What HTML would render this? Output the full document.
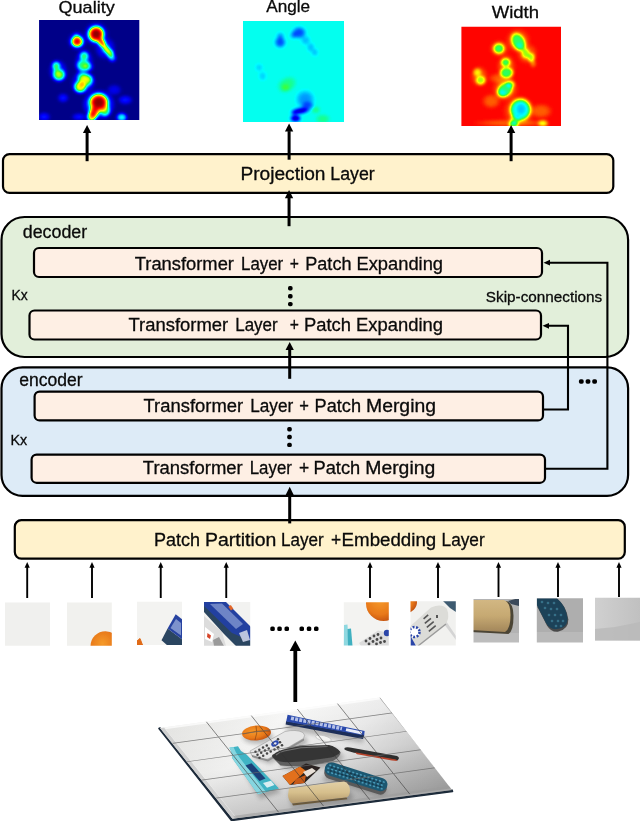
<!DOCTYPE html>
<html>
<head>
<meta charset="utf-8">
<title>Diagram</title>
<style>
html,body{margin:0;padding:0;background:#fff;}
body{width:640px;height:821px;overflow:hidden;font-family:"Liberation Sans",sans-serif;}
svg{display:block;}
text{font-family:"Liberation Sans",sans-serif;fill:#0a0a0a;stroke:#0a0a0a;stroke-width:0.3px;}
</style>
</head>
<body>
<svg width="640" height="821" viewBox="0 0 640 821">
<defs>
  <filter id="jet" x="-10%" y="-10%" width="120%" height="120%" color-interpolation-filters="sRGB">
    <feGaussianBlur stdDeviation="1.6"/>
    <feComponentTransfer>
      <feFuncR type="table" tableValues="0 0 0 0 0 0 0 0.08 0.25 0.7 1 1 1 1 1 0.75 0.5"/>
      <feFuncG type="table" tableValues="0 0 0 0.25 0.5 0.75 1 1 1 1 1 0.75 0.5 0.25 0 0 0"/>
      <feFuncB type="table" tableValues="0.52 0.78 1 1 1 1 1 0.6 0.2 0.03 0 0 0 0 0 0 0"/>
    </feComponentTransfer>
  </filter>
  <radialGradient id="w10"><stop offset="0" stop-color="#fff" stop-opacity="0.10"/><stop offset="0.45" stop-color="#fff" stop-opacity="0.10"/><stop offset="0.75" stop-color="#fff" stop-opacity="0.05"/><stop offset="1" stop-color="#fff" stop-opacity="0"/></radialGradient>
  <radialGradient id="w15"><stop offset="0" stop-color="#fff" stop-opacity="0.15"/><stop offset="0.45" stop-color="#fff" stop-opacity="0.14"/><stop offset="0.75" stop-color="#fff" stop-opacity="0.07"/><stop offset="1" stop-color="#fff" stop-opacity="0"/></radialGradient>
  <radialGradient id="w20"><stop offset="0" stop-color="#fff" stop-opacity="0.20"/><stop offset="0.45" stop-color="#fff" stop-opacity="0.19"/><stop offset="0.75" stop-color="#fff" stop-opacity="0.10"/><stop offset="1" stop-color="#fff" stop-opacity="0"/></radialGradient>
  <radialGradient id="w30"><stop offset="0" stop-color="#fff" stop-opacity="0.30"/><stop offset="0.45" stop-color="#fff" stop-opacity="0.28"/><stop offset="0.75" stop-color="#fff" stop-opacity="0.15"/><stop offset="1" stop-color="#fff" stop-opacity="0"/></radialGradient>
  <radialGradient id="w40"><stop offset="0" stop-color="#fff" stop-opacity="0.40"/><stop offset="0.45" stop-color="#fff" stop-opacity="0.38"/><stop offset="0.75" stop-color="#fff" stop-opacity="0.20"/><stop offset="1" stop-color="#fff" stop-opacity="0"/></radialGradient>
  <radialGradient id="w50"><stop offset="0" stop-color="#fff" stop-opacity="0.50"/><stop offset="0.45" stop-color="#fff" stop-opacity="0.47"/><stop offset="0.75" stop-color="#fff" stop-opacity="0.25"/><stop offset="1" stop-color="#fff" stop-opacity="0"/></radialGradient>
  <radialGradient id="w60"><stop offset="0" stop-color="#fff" stop-opacity="0.60"/><stop offset="0.45" stop-color="#fff" stop-opacity="0.57"/><stop offset="0.75" stop-color="#fff" stop-opacity="0.30"/><stop offset="1" stop-color="#fff" stop-opacity="0"/></radialGradient>
  <radialGradient id="w70"><stop offset="0" stop-color="#fff" stop-opacity="0.70"/><stop offset="0.45" stop-color="#fff" stop-opacity="0.66"/><stop offset="0.75" stop-color="#fff" stop-opacity="0.35"/><stop offset="1" stop-color="#fff" stop-opacity="0"/></radialGradient>
  <radialGradient id="w80"><stop offset="0" stop-color="#fff" stop-opacity="0.80"/><stop offset="0.45" stop-color="#fff" stop-opacity="0.76"/><stop offset="0.75" stop-color="#fff" stop-opacity="0.40"/><stop offset="1" stop-color="#fff" stop-opacity="0"/></radialGradient>
  <radialGradient id="w90"><stop offset="0" stop-color="#fff" stop-opacity="0.90"/><stop offset="0.45" stop-color="#fff" stop-opacity="0.85"/><stop offset="0.75" stop-color="#fff" stop-opacity="0.45"/><stop offset="1" stop-color="#fff" stop-opacity="0"/></radialGradient>
  <radialGradient id="w100"><stop offset="0" stop-color="#fff" stop-opacity="1.00"/><stop offset="0.45" stop-color="#fff" stop-opacity="0.95"/><stop offset="0.75" stop-color="#fff" stop-opacity="0.50"/><stop offset="1" stop-color="#fff" stop-opacity="0"/></radialGradient>
  <radialGradient id="k10"><stop offset="0" stop-color="#000" stop-opacity="0.10"/><stop offset="0.45" stop-color="#000" stop-opacity="0.10"/><stop offset="0.75" stop-color="#000" stop-opacity="0.05"/><stop offset="1" stop-color="#000" stop-opacity="0"/></radialGradient>
  <radialGradient id="k15"><stop offset="0" stop-color="#000" stop-opacity="0.15"/><stop offset="0.45" stop-color="#000" stop-opacity="0.14"/><stop offset="0.75" stop-color="#000" stop-opacity="0.07"/><stop offset="1" stop-color="#000" stop-opacity="0"/></radialGradient>
  <radialGradient id="k20"><stop offset="0" stop-color="#000" stop-opacity="0.20"/><stop offset="0.45" stop-color="#000" stop-opacity="0.19"/><stop offset="0.75" stop-color="#000" stop-opacity="0.10"/><stop offset="1" stop-color="#000" stop-opacity="0"/></radialGradient>
  <radialGradient id="k30"><stop offset="0" stop-color="#000" stop-opacity="0.30"/><stop offset="0.45" stop-color="#000" stop-opacity="0.28"/><stop offset="0.75" stop-color="#000" stop-opacity="0.15"/><stop offset="1" stop-color="#000" stop-opacity="0"/></radialGradient>
  <radialGradient id="k40"><stop offset="0" stop-color="#000" stop-opacity="0.40"/><stop offset="0.45" stop-color="#000" stop-opacity="0.38"/><stop offset="0.75" stop-color="#000" stop-opacity="0.20"/><stop offset="1" stop-color="#000" stop-opacity="0"/></radialGradient>
  <radialGradient id="k50"><stop offset="0" stop-color="#000" stop-opacity="0.50"/><stop offset="0.45" stop-color="#000" stop-opacity="0.47"/><stop offset="0.75" stop-color="#000" stop-opacity="0.25"/><stop offset="1" stop-color="#000" stop-opacity="0"/></radialGradient>
  <radialGradient id="k60"><stop offset="0" stop-color="#000" stop-opacity="0.60"/><stop offset="0.45" stop-color="#000" stop-opacity="0.57"/><stop offset="0.75" stop-color="#000" stop-opacity="0.30"/><stop offset="1" stop-color="#000" stop-opacity="0"/></radialGradient>
  <radialGradient id="k70"><stop offset="0" stop-color="#000" stop-opacity="0.70"/><stop offset="0.45" stop-color="#000" stop-opacity="0.66"/><stop offset="0.75" stop-color="#000" stop-opacity="0.35"/><stop offset="1" stop-color="#000" stop-opacity="0"/></radialGradient>
  <radialGradient id="k80"><stop offset="0" stop-color="#000" stop-opacity="0.80"/><stop offset="0.45" stop-color="#000" stop-opacity="0.76"/><stop offset="0.75" stop-color="#000" stop-opacity="0.40"/><stop offset="1" stop-color="#000" stop-opacity="0"/></radialGradient>
  <radialGradient id="k90"><stop offset="0" stop-color="#000" stop-opacity="0.90"/><stop offset="0.45" stop-color="#000" stop-opacity="0.85"/><stop offset="0.75" stop-color="#000" stop-opacity="0.45"/><stop offset="1" stop-color="#000" stop-opacity="0"/></radialGradient>
  <radialGradient id="k100"><stop offset="0" stop-color="#000" stop-opacity="1.00"/><stop offset="0.45" stop-color="#000" stop-opacity="0.95"/><stop offset="0.75" stop-color="#000" stop-opacity="0.50"/><stop offset="1" stop-color="#000" stop-opacity="0"/></radialGradient>
  <radialGradient id="p10"><stop offset="0" stop-color="#000" stop-opacity="0.10"/><stop offset="0.68" stop-color="#000" stop-opacity="0.10"/><stop offset="0.86" stop-color="#000" stop-opacity="0.05"/><stop offset="1" stop-color="#000" stop-opacity="0"/></radialGradient>
  <radialGradient id="p15"><stop offset="0" stop-color="#000" stop-opacity="0.15"/><stop offset="0.68" stop-color="#000" stop-opacity="0.15"/><stop offset="0.86" stop-color="#000" stop-opacity="0.07"/><stop offset="1" stop-color="#000" stop-opacity="0"/></radialGradient>
  <radialGradient id="p20"><stop offset="0" stop-color="#000" stop-opacity="0.20"/><stop offset="0.68" stop-color="#000" stop-opacity="0.20"/><stop offset="0.86" stop-color="#000" stop-opacity="0.09"/><stop offset="1" stop-color="#000" stop-opacity="0"/></radialGradient>
  <radialGradient id="p30"><stop offset="0" stop-color="#000" stop-opacity="0.30"/><stop offset="0.68" stop-color="#000" stop-opacity="0.30"/><stop offset="0.86" stop-color="#000" stop-opacity="0.14"/><stop offset="1" stop-color="#000" stop-opacity="0"/></radialGradient>
  <radialGradient id="p40"><stop offset="0" stop-color="#000" stop-opacity="0.40"/><stop offset="0.68" stop-color="#000" stop-opacity="0.40"/><stop offset="0.86" stop-color="#000" stop-opacity="0.18"/><stop offset="1" stop-color="#000" stop-opacity="0"/></radialGradient>
  <radialGradient id="p50"><stop offset="0" stop-color="#000" stop-opacity="0.50"/><stop offset="0.68" stop-color="#000" stop-opacity="0.50"/><stop offset="0.86" stop-color="#000" stop-opacity="0.23"/><stop offset="1" stop-color="#000" stop-opacity="0"/></radialGradient>
  <radialGradient id="p60"><stop offset="0" stop-color="#000" stop-opacity="0.60"/><stop offset="0.68" stop-color="#000" stop-opacity="0.60"/><stop offset="0.86" stop-color="#000" stop-opacity="0.27"/><stop offset="1" stop-color="#000" stop-opacity="0"/></radialGradient>
  <clipPath id="cq"><rect x="39.05" y="20.05" width="100.25" height="99.85"/></clipPath>
  <clipPath id="ca"><rect x="242.9" y="21.1" width="101.2" height="100.8"/></clipPath>
  <clipPath id="cw"><rect x="461.4" y="26.7" width="99.6" height="99.3"/></clipPath>
</defs>
<rect x="0" y="0" width="640" height="821" fill="#fff"/>

<!-- HEATMAPS -->
<g id="heatmaps">
<g clip-path="url(#cq)"><g filter="url(#jet)"><g transform="translate(39.05,20.05) scale(1.0025,0.9985)">
  <rect x="-10" y="-10" width="120" height="120" fill="#010101"/>
  <ellipse cx="57" cy="14" rx="13" ry="13" fill="url(#w15)"/>
  <ellipse cx="66" cy="28" rx="11" ry="12" fill="url(#w15)"/>
  <ellipse cx="38" cy="21" rx="10" ry="10" fill="url(#w15)"/>
  <ellipse cx="45" cy="42" rx="10" ry="14" fill="url(#w15)"/>
  <ellipse cx="44" cy="63" rx="13" ry="12" fill="url(#w15)"/>
  <ellipse cx="19" cy="51" rx="10" ry="12" fill="url(#w15)"/>
  <ellipse cx="59" cy="85" rx="17" ry="16" fill="url(#w15)"/>
  <ellipse cx="57" cy="14" rx="9.5" ry="9.5" fill="url(#w100)"/>
  <ellipse cx="62.5" cy="22.5" rx="4" ry="6.5" fill="url(#w80)" transform="rotate(-35 62.5 22.5)"/>
  <ellipse cx="67" cy="29" rx="3.8" ry="5.5" fill="url(#w60)" transform="rotate(-35 67 29)"/>
  <ellipse cx="71" cy="33.5" rx="4.5" ry="5" fill="url(#w50)"/>
  <ellipse cx="73" cy="38" rx="4.5" ry="4.5" fill="url(#w30)"/>
  <ellipse cx="38" cy="21.5" rx="7" ry="6.5" fill="url(#w90)"/>
  <ellipse cx="37" cy="16" rx="3.5" ry="3.5" fill="url(#w20)"/>
  <ellipse cx="45" cy="36" rx="5.5" ry="5.5" fill="url(#w40)"/>
  <ellipse cx="44" cy="45.5" rx="8" ry="7" fill="url(#w40)"/>
  <ellipse cx="49" cy="47" rx="6" ry="5" fill="url(#w20)"/>
  <ellipse cx="46.5" cy="60" rx="9" ry="8" fill="url(#w50)"/>
  <ellipse cx="48.5" cy="59" rx="4.5" ry="3.5" fill="url(#w15)"/>
  <ellipse cx="41" cy="67" rx="7.5" ry="7" fill="url(#w60)"/>
  <ellipse cx="42" cy="56" rx="6" ry="6" fill="url(#w20)"/>
  <ellipse cx="17" cy="45.5" rx="5" ry="5" fill="url(#w40)"/>
  <ellipse cx="20" cy="55" rx="7.5" ry="7" fill="url(#w50)"/>
  <ellipse cx="17" cy="50" rx="4.5" ry="5" fill="url(#w15)"/>
  <ellipse cx="59.5" cy="82.5" rx="11" ry="10.5" fill="url(#w100)"/>
  <ellipse cx="55" cy="92" rx="6" ry="6.5" fill="url(#w80)"/>
  <ellipse cx="52.5" cy="97" rx="5.5" ry="6" fill="url(#w70)"/>
  <ellipse cx="66" cy="91" rx="6" ry="7" fill="url(#w40)"/>
  <ellipse cx="60" cy="84" rx="17" ry="15" fill="url(#w15)"/>
  <ellipse cx="82.5" cy="97.5" rx="6" ry="5" fill="url(#w40)"/>
  <ellipse cx="24" cy="78" rx="6" ry="5" fill="url(#w15)"/>
  <ellipse cx="86" cy="80" rx="8" ry="5" fill="url(#w15)"/>
  <ellipse cx="5" cy="97" rx="7" ry="5" fill="url(#w15)"/>
  <ellipse cx="40" cy="97" rx="8" ry="4" fill="url(#w15)"/>
  <ellipse cx="75" cy="70" rx="8" ry="6" fill="url(#w10)"/>
</g></g></g>
<g clip-path="url(#ca)"><g filter="url(#jet)"><g transform="translate(242.9,21.1) scale(1.012,1.008)">
  <rect x="-10" y="-10" width="120" height="120" fill="#626262"/>
  <ellipse cx="55.5" cy="11.5" rx="7.5" ry="6.5" fill="url(#k50)"/>
  <ellipse cx="50" cy="14" rx="4" ry="4" fill="url(#k30)"/>
  <ellipse cx="36.8" cy="21" rx="6" ry="6" fill="url(#k50)"/>
  <ellipse cx="37" cy="15" rx="4" ry="4" fill="url(#k30)"/>
  <ellipse cx="62" cy="19" rx="5" ry="5" fill="url(#k20)"/>
  <ellipse cx="67" cy="26" rx="4" ry="5" fill="url(#k20)"/>
  <ellipse cx="71" cy="31" rx="3.5" ry="4" fill="url(#k20)"/>
  <ellipse cx="16" cy="46" rx="4" ry="4" fill="url(#k15)"/>
  <ellipse cx="19.5" cy="54.5" rx="4" ry="5" fill="url(#k15)"/>
  <ellipse cx="43.6" cy="63" rx="11" ry="8" fill="url(#w10)" transform="rotate(-30 43.6 63)"/>
  <ellipse cx="42" cy="66" rx="5" ry="4" fill="url(#w10)"/>
  <ellipse cx="61.5" cy="77.7" rx="10" ry="10" fill="url(#k30)"/>
  <ellipse cx="64" cy="84" rx="7" ry="5" fill="url(#k40)"/>
  <ellipse cx="57" cy="89" rx="10" ry="3.5" fill="url(#k90)" transform="rotate(-8 57 89)"/>
  <ellipse cx="52" cy="96.5" rx="6" ry="4" fill="url(#k90)"/>
  <ellipse cx="51" cy="91" rx="4" ry="3" fill="url(#k50)"/>
  <ellipse cx="79" cy="97" rx="8" ry="5" fill="url(#w10)"/>
  <ellipse cx="72" cy="88" rx="5" ry="4" fill="url(#w10)"/>
</g></g></g>
<g clip-path="url(#cw)"><g filter="url(#jet)"><g transform="translate(461.4,26.7) scale(0.996,0.993)">
  <rect x="-10" y="-10" width="122" height="122" fill="#dedede"/>
  <ellipse cx="57" cy="14" rx="13" ry="13" fill="url(#k10)"/>
  <ellipse cx="66" cy="27" rx="11" ry="11" fill="url(#k10)"/>
  <ellipse cx="38" cy="22" rx="10" ry="9" fill="url(#k10)"/>
  <ellipse cx="45" cy="40" rx="10" ry="13" fill="url(#k10)"/>
  <ellipse cx="44" cy="63" rx="14" ry="13" fill="url(#k10)"/>
  <ellipse cx="58" cy="85" rx="17" ry="16" fill="url(#k10)"/>
  <ellipse cx="18" cy="50" rx="9" ry="11" fill="url(#k10)"/>
  <ellipse cx="30" cy="75" rx="10" ry="8" fill="url(#k10)"/>
  <ellipse cx="80" cy="85" rx="12" ry="8" fill="url(#k10)"/>
  <ellipse cx="50" cy="97" rx="40" ry="4" fill="url(#k10)"/>
  <ellipse cx="40" cy="52" rx="14" ry="6" fill="url(#k10)"/>
  <ellipse cx="57.3" cy="15.5" rx="7.5" ry="11" fill="url(#p40)" transform="rotate(-28 57.3 15.5)"/>
  <ellipse cx="64.5" cy="27" rx="4.5" ry="5.5" fill="url(#p30)"/>
  <ellipse cx="70" cy="31" rx="4" ry="5" fill="url(#p30)"/>
  <ellipse cx="72" cy="37" rx="3.5" ry="4.5" fill="url(#k15)"/>
  <ellipse cx="58" cy="19" rx="4" ry="4" fill="url(#k15)"/>
  <ellipse cx="37.6" cy="22" rx="6.2" ry="5.8" fill="url(#p40)"/>
  <ellipse cx="44.5" cy="36" rx="5.2" ry="4.8" fill="url(#p40)"/>
  <ellipse cx="45.4" cy="46.3" rx="7.5" ry="6" fill="url(#p40)"/>
  <ellipse cx="43.7" cy="63.6" rx="9.5" ry="7.5" fill="url(#p40)" transform="rotate(-35 43.7 63.6)"/>
  <ellipse cx="41" cy="67" rx="6" ry="5" fill="url(#k20)"/>
  <ellipse cx="49" cy="58" rx="5" ry="4" fill="url(#p30)"/>
  <ellipse cx="16" cy="46" rx="4.5" ry="4.5" fill="url(#p20)"/>
  <ellipse cx="19.4" cy="54" rx="5.5" ry="5" fill="url(#p30)"/>
  <ellipse cx="59.3" cy="83.5" rx="12" ry="12.5" fill="url(#p50)"/>
  <ellipse cx="60" cy="83" rx="6" ry="7" fill="url(#k20)"/>
  <ellipse cx="54" cy="93.5" rx="6" ry="5" fill="url(#p20)"/>
  <ellipse cx="52.3" cy="98.5" rx="5.5" ry="4.5" fill="url(#p40)"/>
  <ellipse cx="81.8" cy="97.4" rx="6" ry="4" fill="url(#k30)"/>
</g></g></g>
</g>

<!-- BOXES -->
<g id="boxes" stroke="#000" stroke-width="2.2">
  <rect x="3" y="154.1" width="610.3" height="38.8" rx="6.5" fill="#FFF2CC"/>
  <rect x="1.5" y="217" width="626.6" height="140" rx="23" fill="#E2EFDA"/>
  <rect x="1.5" y="367.3" width="626.6" height="128.6" rx="21" fill="#DDEBF7"/>
  <rect x="14.8" y="520.2" width="610" height="38.4" rx="6.5" fill="#FFF2CC"/>
  <g fill="#FEEFE4">
    <rect x="34" y="248" width="508" height="29" rx="5"/>
    <rect x="29.5" y="310.5" width="511.5" height="29" rx="5"/>
    <rect x="34.6" y="391.6" width="508.4" height="28.8" rx="5"/>
    <rect x="31.6" y="454.6" width="513.4" height="28.2" rx="5"/>
  </g>
</g>

<!-- PATCHES -->
<defs>
  <clipPath id="p1"><rect x="5" y="602.5" width="45" height="43.3"/></clipPath>
  <clipPath id="p2"><rect x="67" y="602.5" width="44.8" height="43.3"/></clipPath>
  <clipPath id="p3"><rect x="137" y="601.7" width="45" height="43.2"/></clipPath>
  <clipPath id="p4"><rect x="204" y="602" width="46.2" height="43.8"/></clipPath>
  <clipPath id="p5"><rect x="343.8" y="602.3" width="45" height="43.3"/></clipPath>
  <clipPath id="p6"><rect x="410.5" y="601.3" width="45.3" height="44.2"/></clipPath>
  <clipPath id="p7"><rect x="473.5" y="599" width="45.5" height="43.4"/></clipPath>
  <clipPath id="p8"><rect x="536.8" y="598.3" width="46.2" height="44.1"/></clipPath>
  <clipPath id="p9"><rect x="595" y="597.7" width="45" height="42.8"/></clipPath>
  <radialGradient id="orng" cx="0.4" cy="0.4" r="0.7"><stop offset="0" stop-color="#f59a2a"/><stop offset="0.6" stop-color="#e8781a"/><stop offset="1" stop-color="#b8480c"/></radialGradient>
  <linearGradient id="tan" x1="0" y1="0" x2="0" y2="1"><stop offset="0" stop-color="#e2d0a6"/><stop offset="0.5" stop-color="#d6bf8c"/><stop offset="1" stop-color="#b0966a"/></linearGradient>
  <linearGradient id="tan7" x1="0" y1="0" x2="0" y2="1"><stop offset="0" stop-color="#d2b783"/><stop offset="0.5" stop-color="#c6a972"/><stop offset="1" stop-color="#a2865a"/></linearGradient>
  <linearGradient id="gry9" x1="0" y1="0" x2="1" y2="0"><stop offset="0" stop-color="#d0d0d0"/><stop offset="1" stop-color="#c0c0c0"/></linearGradient>
  <filter id="soft" x="-5%" y="-5%" width="110%" height="110%"><feGaussianBlur stdDeviation="0.5"/></filter>
</defs>
<g id="patches">
  <g clip-path="url(#p1)"><rect x="5" y="602" width="46" height="44" fill="#f0f0ee"/></g>
  <g clip-path="url(#p2)"><g filter="url(#soft)">
    <rect x="60" y="600" width="56" height="50" fill="#f1f1ee"/>
    <circle cx="105.5" cy="646.2" r="15" fill="url(#orng)"/>
  </g></g>
  <g clip-path="url(#p3)"><g filter="url(#soft)">
    <rect x="130" y="598" width="56" height="50" fill="#f3f3f1"/>
    <path d="M137 641 L140 638.5 L142.5 645 L137 645Z" fill="#e06a18" stroke="#e06a18" stroke-width="1"/>
    <path d="M161.5 640.3 L167.6 628.5 L183 640 L183 646 L168 646Z" fill="#2b4560"/>
    <path d="M167.6 628.5 L175.7 614.3 L183 620 L183 640Z" fill="#2742a0"/>
    <path d="M170.5 628 L176 619 L181 623 L181 635.5Z" fill="#93a6d8" opacity="0.8"/>
  </g></g>
  <g clip-path="url(#p4)"><g filter="url(#soft)">
    <rect x="200" y="598" width="56" height="50" fill="#f2f2f0"/>
    <path d="M204 616 L222 632 L226 646 L204 646Z" fill="#dcdcdc"/>
    <path d="M205 627 L214 634 L212 642 L205 639Z" fill="#fff"/>
    <path d="M207.5 633 L211 635.5 L210 639 L207 637Z" fill="#d6452a"/>
    <path d="M213 640 L219 637 L224 646 L214 646Z" fill="#9a9a9a"/>
    <path d="M204 603 L204 612 L224 634 L236 646 L251 646 L251 640 L234 632Z" fill="#2b4560"/>
    <path d="M204 602 L226 602 L251 627 L251 641 L232 633 L204 606Z" fill="#2440a0"/>
    <path d="M210 604 L222 603.5 L243 624 L236 629Z" fill="#8fa2d6" opacity="0.7"/>
    <path d="M239 633 L247 630 L250 640 L243 642Z" fill="#c3cbe2" opacity="0.95"/>
    <rect x="229.5" y="605.5" width="3" height="4.5" fill="#e0662a" transform="rotate(-35 231 608)"/>
  </g></g>
  <g clip-path="url(#p5)"><g filter="url(#soft)">
    <rect x="340" y="598" width="56" height="50" fill="#f3f3f1"/>
    <circle cx="383.5" cy="603.5" r="17.5" fill="url(#orng)"/>
    <path d="M344 625 L347.5 624.5 L348.5 646 L343 646Z" fill="#8fd8e0"/>
    <path d="M347.5 629 L351 628.5 L352.5 646 L348 646Z" fill="#3fb0c0"/>
    <path d="M359 643 L378 630.5 L389 633 L389 646 L361 646Z" fill="#dcdcdc"/>
    <g fill="#4a4a4a">
      <circle cx="366" cy="641" r="1.4"/><circle cx="370" cy="638.5" r="1.4"/><circle cx="374" cy="636" r="1.4"/><circle cx="378" cy="634.5" r="1.4"/>
      <circle cx="369" cy="644" r="1.4"/><circle cx="373" cy="641.5" r="1.4"/><circle cx="377" cy="639.5" r="1.4"/><circle cx="381" cy="638" r="1.4"/>
      <circle cx="376.5" cy="644" r="1.4"/><circle cx="380.5" cy="642.5" r="1.4"/><circle cx="384.5" cy="641.5" r="1.4"/>
    </g>
    <circle cx="387" cy="633" r="3.2" fill="#2a45a8"/>
  </g></g>
  <g clip-path="url(#p6)"><g filter="url(#soft)">
    <rect x="406" y="598" width="56" height="50" fill="#f1f1ef"/>
    <path d="M443 601 L456 601 L456 612 L450 608Z" fill="#3d5a70"/>
    <circle cx="406" cy="602" r="11" fill="url(#orng)"/>
    <path d="M446 621 L456 636 L456 640 L444 624Z" fill="#d4d4d4"/>
    <path d="M410.5 626 L431 607.5 Q442 603 447 609 Q450 617 446 624 L418 646 L410.5 646Z" fill="#dcdcd8"/>
    <path d="M418 646 L446 624" stroke="#9a9a9a" stroke-width="1.5" fill="none"/>
    <g fill="#555"><rect x="424" y="620" width="8" height="1.6" transform="rotate(-40 428 621)"/><rect x="426" y="624" width="9" height="1.6" transform="rotate(-40 430 625)"/><rect x="428" y="628" width="9" height="1.6" transform="rotate(-40 432 629)"/><rect x="423" y="616" width="6" height="1.6" transform="rotate(-40 426 617)"/><rect x="436" y="615" width="2" height="3"/></g>
    <circle cx="414.5" cy="632" r="5.5" fill="#fff"/>
    <circle cx="414.5" cy="632" r="5" fill="none" stroke="#2a45a8" stroke-width="2.5" stroke-dasharray="2 1.5"/>
    <path d="M410.5 636 L416 646 L410.5 646Z" fill="#2a45a8"/>
  </g></g>
  <g clip-path="url(#p7)"><g filter="url(#soft)">
    <rect x="470" y="596" width="56" height="50" fill="#b3b3b3"/>
    <rect x="470" y="633" width="56" height="12" fill="#bdbdbd"/>
    <path d="M508 601 L519 598 L519 606 L511 604Z" fill="#3a4a5a"/>
    <path d="M470 600 L505 600 Q512 602 512 615 Q512 630 507 633 L470 631Z" fill="#4c4536" transform="translate(1.5,1)"/>
    <path d="M470 600 L504 600 Q510.5 602 510.5 615 Q510.5 629 505 632 L470 630Z" fill="url(#tan7)"/>
  </g></g>
  <g clip-path="url(#p8)"><g filter="url(#soft)">
    <rect x="532" y="596" width="56" height="50" fill="#aeaeae"/>
    <rect x="532" y="632" width="56" height="14" fill="#b9b9b9"/>
    <path d="M536.8 598.3 L557 598.3 Q566 606 567.5 618 Q568 628 557 630.5 Q550 631 546 624 L536.8 606Z" fill="#4a4a4a" transform="translate(0.8,1.3)"/>
    <path d="M536.8 598.3 L557 598.3 Q566 606 567.5 618 Q568 628 557 629 Q550 630 546 623 L536.8 605Z" fill="#1f4258"/>
    <g fill="#347088"><circle cx="542" cy="602" r="1.3"/><circle cx="548" cy="603" r="1.3"/><circle cx="554" cy="603" r="1.3"/><circle cx="545" cy="608" r="1.3"/><circle cx="551" cy="609" r="1.3"/><circle cx="557" cy="609" r="1.3"/><circle cx="549" cy="615" r="1.3"/><circle cx="555" cy="615" r="1.3"/><circle cx="561" cy="615" r="1.3"/><circle cx="552" cy="621" r="1.3"/><circle cx="558" cy="621" r="1.3"/><circle cx="563" cy="621" r="1.3"/><circle cx="556" cy="626" r="1.3"/><circle cx="561" cy="626" r="1.3"/></g>
  </g></g>
  <g clip-path="url(#p9)">
    <rect x="595" y="597" width="46" height="44" fill="url(#gry9)"/>
    <path d="M595 629 L615 627 L640 622 L640 641 L595 641Z" fill="#b9b9b9" opacity="0.8"/>
  </g>
</g>

<!-- PHOTO -->
<defs>
  <linearGradient id="surf" x1="0" y1="0.3" x2="1" y2="0.75"><stop offset="0" stop-color="#e4e4e2"/><stop offset="0.3" stop-color="#f7f7f6"/><stop offset="0.55" stop-color="#ececec"/><stop offset="0.8" stop-color="#cdcdcd"/><stop offset="1" stop-color="#b8b8b8"/></linearGradient>
  <linearGradient id="vdark" x1="0" y1="0" x2="0" y2="1"><stop offset="0" stop-color="#000" stop-opacity="0"/><stop offset="0.5" stop-color="#000" stop-opacity="0.03"/><stop offset="1" stop-color="#000" stop-opacity="0.17"/></linearGradient>
  <clipPath id="quad"><path d="M160 728 L380 697.5 L452 790 L232.5 818.8Z"/></clipPath>
  <filter id="soft2" x="-5%" y="-5%" width="110%" height="110%"><feGaussianBlur stdDeviation="0.45"/></filter>
  <filter id="shad" x="-20%" y="-20%" width="140%" height="140%"><feGaussianBlur stdDeviation="2"/></filter>
</defs>
<g id="photo">
  <!-- thickness edge -->
  <path d="M159 728.5 L231.5 820.5 L452.5 791.5 L452 790 L232.5 818.8 L160 728Z" fill="#1d2b3a" stroke="#1d2b3a" stroke-width="1.6" stroke-linejoin="round"/>
  <path d="M160 728 L380 697.5 L452 790 L232.5 818.8Z" fill="url(#surf)"/>
  <g clip-path="url(#quad)">
    <!-- shadows -->
    <g filter="url(#shad)" fill="#8a8a8a" opacity="0.55">
      <path d="M277 755 L300 748 L336 749 L344 756 L338 765 L300 772 L282 768Z"/>
      <path d="M289 792 L345 786 L353 795 L351 802 L292 808Z"/>
      <path d="M330 770 L388 790 L383 797 L322 780Z"/>
      <path d="M232 752 L240 752 L281 792 L260 799Z"/>
      <path d="M252 758 L288 736 L306 737 L308 743 L270 764Z"/>
      <path d="M288 722 L364 737 L363 743 L285 730Z"/>
      <ellipse cx="258" cy="737" rx="15" ry="7"/>
    </g>
    <!-- grid -->
    <g transform="matrix(0.44 -0.061 0.145 0.1815 160 728)" stroke="#6a6a6a" fill="none">
      <rect x="0" y="0" width="500" height="500" fill="url(#vdark)" stroke="none"/>
      <path d="M0 500V0H500" stroke="#fff" stroke-width="20" opacity="0.7"/>
      <path d="M500 0V500" stroke="#8a8a8a" stroke-width="3"/>
      <path d="M6 500H500" stroke="#9a9a9a" stroke-width="26" opacity="0.55"/>
      <path d="M4 0V500" stroke="#aaa" stroke-width="10" opacity="0.5"/>
    </g>
  </g>
  <g filter="url(#soft2)">
    <!-- orange -->
    <ellipse cx="256.5" cy="733" rx="14.5" ry="7.5" fill="url(#orng)" transform="rotate(-4 256.5 733)"/>
    <path d="M243 734 Q256 730 270 731 M256 726 Q258 733 255 740" stroke="#7a3a10" stroke-width="0.6" fill="none"/>
    <!-- blue long box -->
    <ellipse cx="323.5" cy="738.3" rx="8" ry="2.6" fill="#f4f4f2" stroke="#b8b8b8" stroke-width="0.6" transform="rotate(14 323.5 738.3)"/>
    <path d="M285.6 724.6 L363 739 L364.2 735 L286.2 721Z" fill="#1f2f58"/>
    <path d="M287.6 714.8 L364.6 731 L364.2 735.6 L286.2 721.4Z" fill="#2a4aac"/>
    <path d="M291 718.2 L342 728.6" stroke="#b4c0e8" stroke-width="3.6" stroke-dasharray="3 1.2" fill="none"/>
    <path d="M346 729.6 L362 733" stroke="#e8ecf8" stroke-width="3" fill="none"/>
    <!-- remote -->
    <path d="M250 751 L285 731.5 Q296 729 303 732.5 Q306 735 303.5 738.5 L268 759 Q258 760 252 756Z" fill="#e6e6e6" stroke="#9a9a9a" stroke-width="0.6"/>
    <path d="M252 755 L268 759.5 L304 738.5 L304 740.5 L268 761.5 L252 757Z" fill="#8d8d8d"/>
    <g fill="#444">
      <circle cx="255.5" cy="751.8" r="1.25"/><circle cx="257.5" cy="754.8" r="1.25"/><circle cx="259.5" cy="757.8" r="1.25"/><circle cx="259.3" cy="749.7" r="1.25"/><circle cx="261.2" cy="752.7" r="1.25"/><circle cx="263.2" cy="755.7" r="1.25"/><circle cx="263.0" cy="747.6" r="1.25"/><circle cx="265.0" cy="750.6" r="1.25"/><circle cx="267.0" cy="753.6" r="1.25"/><circle cx="266.8" cy="745.5" r="1.25"/><circle cx="268.7" cy="748.5" r="1.25"/><circle cx="270.7" cy="751.5" r="1.25"/><circle cx="274.5" cy="749.4" r="1.25"/><circle cx="278.2" cy="747.3" r="1.25"/><circle cx="278.0" cy="739.3" r="1.25"/><circle cx="280.0" cy="742.2" r="1.25"/><circle cx="282.0" cy="745.2" r="1.25"/>
    </g>
    <ellipse cx="275" cy="743.5" rx="4" ry="2.6" fill="#2a48b0" transform="rotate(-28 275 743.5)"/>
    <ellipse cx="275" cy="743.5" rx="1.8" ry="1.1" fill="#e8e8f4" transform="rotate(-28 275 743.5)"/>
    <!-- black case -->
    <path d="M272 757 L280.5 765.5 Q300 767.5 318 764 L333 761 Q341 756 340.5 752 L332 746 L300 745.5 Q282 750 272 755Z" fill="#5e5e5e"/>
    <path d="M272.3 756 Q275 752 282.5 749.7 L300 746.3 L329 745 Q336 746.5 340 751.5 Q339 755 331 757.5 L306 761 Q288 763 280 761.5 Q274 759.5 272.3 756Z" fill="#353535"/>
    <path d="M276 755 Q279 752.3 284 751 L301 747.8 L328 746.5" stroke="#707070" stroke-width="1.1" fill="none"/>
    <!-- teal tube -->
    <path d="M229.4 747.7 L238 746.3 L241 751 L246.5 754.5 L279 788.5 L258 794.2 L232.5 758.5 L231.5 752Z" fill="#3fb3c4"/>
    <path d="M229.4 747.7 L233.5 747 L236 752.5 L239.5 757.5 L266 792 L258 794.2 L232.5 758.5 L231.5 752Z" fill="#86d6e0"/>
    <path d="M245.5 765.5 L251.5 763.2 L265.5 778.5 L259.5 781Z" fill="#1f3f78"/>
    <path d="M263 783 L271 780.8 L274.5 785 L267 787.8Z" fill="#d9eef2"/>
    <!-- orange/black packet -->
    <path d="M282.5 776 L306 763.5 L320.5 767.5 L304.5 783 L290 785Z" fill="#2a2420"/>
    <path d="M282.5 776 L300 766.5 L306 771 L290 785Z" fill="#e2701c"/>
    <path d="M303 772 L312 768 L316 771 L307 777Z" fill="#e8e0d8"/>
    <path d="M296 779 L306 775 L304.5 783 L293 784.5Z" fill="#c85a18"/>
    <!-- box cutter -->
    <path d="M344.5 748 Q346 747 350 747.6 L397 756 Q399.5 757 398.8 758.8 L397.5 760.5 L354 752.8 Q346.5 751 344.5 749.6Z" fill="#2e2e2e"/>
    <path d="M355 752.3 L396 759.6 L397.5 761 L392 760.6 L357 754.3Z" fill="#b8432a"/>
    <!-- blue patterned case -->
    <g transform="rotate(17.5 356 777)">
      <rect x="323.5" y="771.5" width="65" height="13.5" rx="6.5" fill="#5a5a5a" transform="translate(0.5,1.8)"/>
      <rect x="323.5" y="770" width="65" height="13.5" rx="6.5" fill="#1f5872"/>
      <path d="M327 773.5 H385 M326 777 H386 M327 780.5 H385" stroke="#4a9ab8" stroke-width="1.5" stroke-dasharray="2 2" fill="none"/>
      <path d="M329 775.2 H384 M329 778.8 H384" stroke="#16384c" stroke-width="1.5" stroke-dasharray="2 2" fill="none"/>
    </g>
    <!-- tan roll -->
    <path d="M289 788 L344 781.5 Q349.5 783 350 790 Q350 796 346.5 797.5 L292 803.5 Q288 800 288 795Z" fill="url(#tan)"/>
    <path d="M346.5 797.5 L292 803.5 L293 805.5 L347.5 799.3Z" fill="#6b5a3e"/>
  </g>
  <!-- grid over objects faint -->
  <g clip-path="url(#quad)" opacity="0.8">
    <g transform="matrix(0.44 -0.061 0.145 0.1815 160 728)" stroke="#333" fill="none">
      <path d="M105 0V500M207 0V500M312 0V500M403 0V500" stroke-width="2"/>
      <path d="M0 85H500M0 186H500M0 287H500M0 386H500" stroke-width="3.8" stroke="#6a6a6a"/>
    </g>
  </g>
</g>

<!-- TEXT -->
<g id="labels" lengthAdjust="spacingAndGlyphs" opacity="0.999">
  <text x="58.55" y="12.5" font-size="17" textLength="56.19" lengthAdjust="spacingAndGlyphs">Quality</text>
  <text x="266.22" y="12.3" font-size="17" textLength="43.86" lengthAdjust="spacingAndGlyphs">Angle</text>
  <text x="491.72" y="18.4" font-size="17" textLength="47.36" lengthAdjust="spacingAndGlyphs">Width</text>
  <text x="240.46" y="179.7" font-size="17.5" textLength="85.04" lengthAdjust="spacingAndGlyphs">Projection</text>
  <text x="330.25" y="179.7" font-size="17.5" textLength="44.45" lengthAdjust="spacingAndGlyphs">Layer</text>
  <text x="22.80" y="237.7" font-size="17.5" textLength="64.40" lengthAdjust="spacingAndGlyphs">decoder</text>
  <text x="19.30" y="385.8" font-size="17.5" textLength="63.40" lengthAdjust="spacingAndGlyphs">encoder</text>
  <text x="11.50" y="300.3" font-size="15" textLength="16.20" lengthAdjust="spacingAndGlyphs">Kx</text>
  <text x="10.50" y="445" font-size="15" textLength="16.70" lengthAdjust="spacingAndGlyphs">Kx</text>
  <text x="485.84" y="302" font-size="15" textLength="116.36" lengthAdjust="spacingAndGlyphs">Skip-connections</text>
  <text x="134.80" y="269.5" font-size="17.5" textLength="99.15" lengthAdjust="spacingAndGlyphs">Transformer</text>
  <text x="241.00" y="269.5" font-size="17.5" textLength="42.20" lengthAdjust="spacingAndGlyphs">Layer</text>
  <text x="289.80" y="269.5" font-size="17.5" textLength="9.15" lengthAdjust="spacingAndGlyphs">+</text>
  <text x="305.25" y="269.5" font-size="17.5" textLength="46.25" lengthAdjust="spacingAndGlyphs">Patch</text>
  <text x="356.50" y="269.5" font-size="17.5" textLength="86.50" lengthAdjust="spacingAndGlyphs">Expanding</text>
  <text x="128.55" y="331.4" font-size="17.5" textLength="99.65" lengthAdjust="spacingAndGlyphs">Transformer</text>
  <text x="235.25" y="331.4" font-size="17.5" textLength="42.45" lengthAdjust="spacingAndGlyphs">Layer</text>
  <text x="289.80" y="331.4" font-size="17.5" textLength="9.15" lengthAdjust="spacingAndGlyphs">+</text>
  <text x="304.00" y="331.4" font-size="17.5" textLength="47.00" lengthAdjust="spacingAndGlyphs">Patch</text>
  <text x="356.00" y="331.4" font-size="17.5" textLength="87.00" lengthAdjust="spacingAndGlyphs">Expanding</text>
  <text x="143.55" y="411.5" font-size="17.5" textLength="99.65" lengthAdjust="spacingAndGlyphs">Transformer</text>
  <text x="250.25" y="411.5" font-size="17.5" textLength="42.95" lengthAdjust="spacingAndGlyphs">Layer</text>
  <text x="299.30" y="411.5" font-size="17.5" textLength="9.65" lengthAdjust="spacingAndGlyphs">+</text>
  <text x="314.50" y="411.5" font-size="17.5" textLength="46.50" lengthAdjust="spacingAndGlyphs">Patch</text>
  <text x="366.00" y="411.5" font-size="17.5" textLength="70.00" lengthAdjust="spacingAndGlyphs">Merging</text>
  <text x="142.80" y="474.2" font-size="17.5" textLength="99.90" lengthAdjust="spacingAndGlyphs">Transformer</text>
  <text x="249.75" y="474.2" font-size="17.5" textLength="42.15" lengthAdjust="spacingAndGlyphs">Layer</text>
  <text x="299.05" y="474.2" font-size="17.5" textLength="10.20" lengthAdjust="spacingAndGlyphs">+</text>
  <text x="313.50" y="474.2" font-size="17.5" textLength="46.75" lengthAdjust="spacingAndGlyphs">Patch</text>
  <text x="365.25" y="474.2" font-size="17.5" textLength="70.00" lengthAdjust="spacingAndGlyphs">Merging</text>
  <text x="154.00" y="546.3" font-size="17.5" textLength="46.04" lengthAdjust="spacingAndGlyphs">Patch</text>
  <text x="205.04" y="546.3" font-size="17.5" textLength="71.38" lengthAdjust="spacingAndGlyphs">Partition</text>
  <text x="281.04" y="546.3" font-size="17.5" textLength="42.66" lengthAdjust="spacingAndGlyphs">Layer</text>
  <text x="330.95" y="546.3" font-size="17.5" textLength="10.2" lengthAdjust="spacingAndGlyphs">+</text>
  <text x="341.6" y="546.3" font-size="17.5" textLength="94.6" lengthAdjust="spacingAndGlyphs">Embedding</text>
  <text x="441.58" y="546.3" font-size="17.5" textLength="43.12" lengthAdjust="spacingAndGlyphs">Layer</text>
</g>

<!-- ARROWS -->
<g id="arrows" stroke="#000" fill="#000">
  <!-- thick arrows -->
  <g stroke-width="3">
    <line x1="87.1" y1="161.2" x2="87.1" y2="132.5"/>
    <line x1="289.1" y1="159.7" x2="289.1" y2="131.1"/>
    <line x1="511.1" y1="161.2" x2="511.1" y2="132.5"/>
    <line x1="289.05" y1="226.2" x2="289.05" y2="197.7"/>
    <line x1="289.7" y1="378.8" x2="289.7" y2="349.5"/>
    <line x1="289.7" y1="523.4" x2="289.7" y2="494.8"/>
  </g>
  <g stroke="none">
    <path d="M87.1 124.9 L91.25 133 L82.94999999999999 133 Z"/>
    <path d="M289.1 123.4 L293.25 131.6 L284.95000000000005 131.6 Z"/>
    <path d="M511.1 125 L515.25 133 L506.95000000000005 133 Z"/>
    <path d="M289.05 190 L293.2 198.2 L284.90000000000003 198.2 Z"/>
    <path d="M289.7 341.9 L293.84999999999997 350 L285.55 350 Z"/>
    <path d="M289.7 486.75 L293.84999999999997 495.3 L285.55 495.3 Z"/>
  </g>
  <!-- vertical dots -->
  <g stroke="none">
    <rect x="288.0" y="286.1" width="4.6" height="4.4" rx="1.7"/><rect x="288.0" y="294.1" width="4.6" height="4.4" rx="1.7"/><rect x="288.0" y="301.9" width="4.6" height="4.4" rx="1.7"/>
    <rect x="287.2" y="427.0" width="4.6" height="4.4" rx="1.7"/><rect x="287.2" y="434.8" width="4.6" height="4.4" rx="1.7"/><rect x="287.2" y="442.7" width="4.6" height="4.4" rx="1.7"/>
    <rect x="578.9" y="379.3" width="4.8" height="4.4" rx="1.7"/><rect x="585.6" y="379.3" width="4.8" height="4.4" rx="1.7"/><rect x="592.2" y="379.3" width="4.8" height="4.4" rx="1.7"/>
  </g>
  <!-- skip connections -->
  <g fill="none" stroke-width="2.1">
    <path d="M545 468.75 H607.4 V262.7 H547"/>
    <path d="M543 409.5 H568 V325.8 H547"/>
  </g>
  <g stroke="none">
    <path d="M543.5 262.7 L550 259.8 L550 265.6 Z"/>
    <path d="M542.5 325.8 L549 322.9 L549 328.7 Z"/>
  </g>
  <!-- thin arrows -->
  <g stroke-width="1.9">
    <line x1="27.2" y1="598" x2="27.2" y2="566"/>
    <line x1="92" y1="598" x2="92" y2="566"/>
    <line x1="160.75" y1="598" x2="160.75" y2="566"/>
    <line x1="226.25" y1="598" x2="226.25" y2="566"/>
    <line x1="370" y1="598" x2="370" y2="566"/>
    <line x1="438" y1="598" x2="438" y2="566"/>
    <line x1="498.5" y1="597" x2="498.5" y2="566"/>
    <line x1="558" y1="597" x2="558" y2="566"/>
    <line x1="619" y1="597" x2="619" y2="566"/>
  </g>
  <g stroke="none">
    <path d="M27.2 562 l2.6 5.8 h-5.2 Z"/>
    <path d="M92 562 l2.6 5.8 h-5.2 Z"/>
    <path d="M160.75 562 l2.6 5.8 h-5.2 Z"/>
    <path d="M226.25 562 l2.6 5.8 h-5.2 Z"/>
    <path d="M370 562 l2.6 5.8 h-5.2 Z"/>
    <path d="M438 562 l2.6 5.8 h-5.2 Z"/>
    <path d="M498.5 562 l2.6 5.8 h-5.2 Z"/>
    <path d="M558 562 l2.6 5.8 h-5.2 Z"/>
    <path d="M619 562 l2.6 5.8 h-5.2 Z"/>
  </g>
  <!-- big arrow -->
  <line x1="295.3" y1="702" x2="295.3" y2="649" stroke-width="3.8"/>
  <path d="M295.3 640.5 L301 651 L289.6 651 Z" stroke="none"/>
  <!-- ellipsis -->
  <g stroke="none">
    <rect x="270.3" y="626.5" width="4.5" height="4.5" rx="1.6"/>
    <rect x="277.3" y="626.5" width="4.5" height="4.5" rx="1.6"/>
    <rect x="284.5" y="626.5" width="4.5" height="4.5" rx="1.6"/>
    <rect x="299.5" y="626.5" width="4.5" height="4.5" rx="1.6"/>
    <rect x="306.8" y="626.5" width="4.5" height="4.5" rx="1.6"/>
    <rect x="314" y="626.5" width="4.5" height="4.5" rx="1.6"/>
  </g>
</g>

</svg>
</body>
</html>
